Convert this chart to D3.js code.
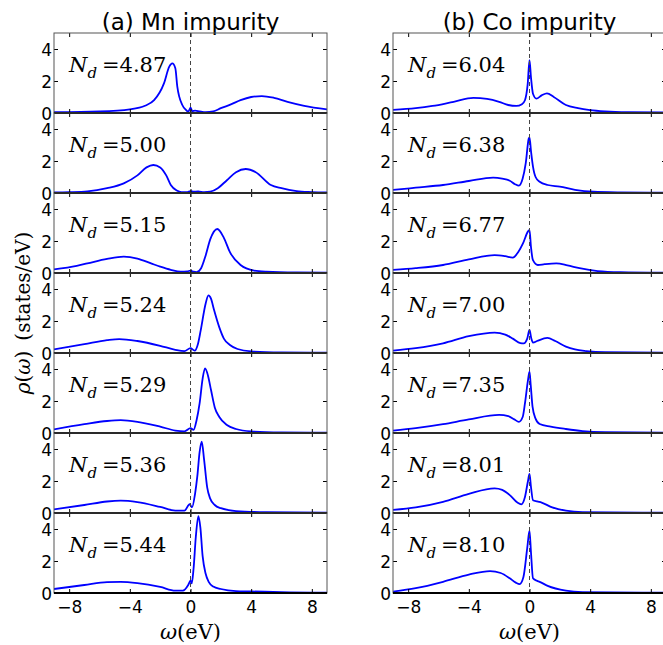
<!DOCTYPE html>
<html>
<head>
<meta charset="utf-8">
<script src="https://cdn.jsdelivr.net/npm/d3@7"></script>
<style>
  body { margin: 0; background: #fff; }
  svg { display: block; }
  .tick text { font-family: "DejaVu Sans", sans-serif; font-size: 17px; fill: #000; }
  .tick line { stroke: #000; stroke-width: 1; }
  .serif { font-family: "DejaVu Serif", "Liberation Serif", "Times New Roman", serif; }
</style>
</head>
<body>
<div id="chart"></div>
<script>
// ω values, in eV, paired with ρ(ω) in states/eV
const omegaTicks = [-8, -4, 0, 4, 8]
const rhoTicks = [0, 2, 4]
const columnTitles = ["(a) Mn impurity", "(b) Co impurity"]
const mnLabels = ["4.87", "5.00", "5.15", "5.24", "5.29", "5.36", "5.44"]
const coLabels = ["6.04", "6.38", "6.77", "7.00", "7.35", "8.01", "8.10"]

const mn487 = [[-9,0.05],[-6,0.1],[-4,0.23],[-3,0.45],[-2.4,0.8],[-1.75,1.85],[-1.4,2.9],[-1.2,3.1],[-1.0,2.8],[-0.87,1.65],[-0.54,0.5],[-0.3,0.19],[-0.15,0.08],[0,0.33],[0.12,0.12],[0.3,0.15],[0.6,0.1],[1,0.05],[1.5,0.1],[2,0.3],[2.7,0.55],[3.3,0.8],[4,1.0],[4.7,1.06],[5.5,0.95],[6.4,0.7],[7.5,0.45],[9,0.23]]
const mn500 = [[-9,0.03],[-8,0.05],[-6.8,0.1],[-5.5,0.3],[-4.4,0.6],[-3.5,1.1],[-2.9,1.6],[-2.45,1.75],[-2,1.6],[-1.6,1.1],[-1.3,0.5],[-0.9,0.15],[-0.6,0.05],[-0.2,0.05],[0,0.12],[0.2,0.08],[0.5,0.1],[0.9,0.05],[1.3,0.08],[1.8,0.3],[2.4,0.8],[3,1.3],[3.64,1.5],[4.3,1.3],[5.3,0.5],[6,0.3],[7,0.12],[8,0.06],[9,0.03]]
const mn515 = [[-9,0.23],[-7.5,0.45],[-6.8,0.6],[-5.5,0.88],[-4.4,1.02],[-3.5,0.9],[-2.6,0.6],[-2,0.4],[-1.3,0.2],[-0.65,0.08],[-0.2,0.1],[0,0.15],[0.2,0.08],[0.4,0.05],[0.7,0.3],[1.0,1.1],[1.3,2.1],[1.77,2.75],[2.2,2.2],[2.6,1.3],[3.3,0.5],[4.2,0.15],[5,0.08],[7,0.03],[9,0.02]]
const mn524 = [[-9,0.23],[-7,0.55],[-5.5,0.8],[-4.7,0.87],[-3.5,0.75],[-2,0.45],[-1,0.2],[-0.4,0.12],[0,0.3],[0.27,0.15],[0.5,0.6],[0.67,1.4],[1.0,3.1],[1.18,3.6],[1.35,3.4],[1.55,2.7],[1.9,1.6],[2.2,0.9],[2.6,0.5],[3.1,0.25],[4,0.1],[6,0.04],[9,0.02]]
const mn529 = [[-9,0.23],[-7,0.55],[-5.5,0.75],[-4.6,0.8],[-3.5,0.7],[-2,0.4],[-1,0.15],[-0.4,0.1],[0,0.3],[0.2,0.2],[0.4,0.8],[0.6,1.85],[0.8,3.4],[0.96,4.04],[1.15,3.6],[1.35,2.7],[1.6,1.6],[1.9,1.0],[2.4,0.5],[3,0.25],[4,0.1],[6,0.04],[9,0.02]]
const mn536 = [[-9,0.23],[-7,0.5],[-5.5,0.72],[-4.6,0.77],[-3.5,0.68],[-2,0.38],[-1,0.15],[-0.4,0.15],[-0.05,0.55],[0.1,0.35],[0.3,1.2],[0.45,2.3],[0.6,3.8],[0.74,4.46],[0.9,3.3],[1.1,1.6],[1.3,0.9],[1.6,0.5],[2,0.3],[3,0.12],[5,0.05],[9,0.02]]
const mn544 = [[-9,0.25],[-7,0.5],[-5.5,0.68],[-4.6,0.7],[-3.5,0.62],[-2,0.38],[-1,0.15],[-0.5,0.15],[-0.15,0.5],[0,0.77],[0.08,0.6],[0.2,1.5],[0.35,3.5],[0.52,4.8],[0.65,4.1],[0.8,2.3],[1,1.2],[1.2,0.7],[1.5,0.4],[2,0.25],[3,0.12],[4,0.1],[6,0.05],[9,0.02]]

const co604 = [[-9,0.19],[-7.5,0.3],[-6.4,0.44],[-5,0.7],[-3.7,0.94],[-2.8,0.88],[-2,0.7],[-1.4,0.5],[-0.87,0.44],[-0.5,0.55],[-0.3,0.8],[-0.12,1.8],[0,3.3],[0.1,2.2],[0.23,1.2],[0.45,0.9],[0.8,1.1],[1.15,1.23],[1.6,1.0],[2.4,0.5],[3.2,0.3],[4,0.18],[5,0.1],[6.5,0.05],[9,0.03]]
const co638 = [[-9,0.19],[-7.5,0.33],[-5.7,0.5],[-4,0.75],[-2.4,0.96],[-1.8,0.9],[-1.3,0.77],[-0.95,0.55],[-0.7,0.46],[-0.45,0.9],[-0.25,1.85],[-0.05,3.4],[0,3.48],[0.1,2.6],[0.23,1.65],[0.4,1.0],[0.67,0.7],[1.2,0.5],[2,0.4],[3,0.2],[4.2,0.08],[6,0.04],[9,0.02]]
const co677 = [[-9,0.19],[-7.5,0.3],[-5.7,0.5],[-4,0.85],[-2.3,1.12],[-1.6,1.05],[-1.1,0.96],[-0.75,1.3],[-0.43,1.85],[-0.1,2.6],[0,2.7],[0.1,1.6],[0.23,0.8],[0.55,0.5],[1,0.55],[1.77,0.6],[2.5,0.48],[3.3,0.3],[4.5,0.12],[6,0.05],[9,0.02]]
const co700 = [[-9,0.15],[-7.5,0.3],[-5.7,0.6],[-4,1.05],[-2.3,1.27],[-1.6,1.15],[-1.1,0.9],[-0.6,0.62],[-0.38,0.6],[-0.15,0.9],[0,1.44],[0.12,0.9],[0.23,0.65],[0.5,0.75],[1.18,0.94],[1.7,0.75],[2.4,0.4],[3,0.22],[3.75,0.12],[5,0.05],[9,0.02]]
const co735 = [[-9,0.15],[-7.5,0.3],[-5.7,0.55],[-4,0.85],[-2,1.13],[-1.4,1.05],[-1,0.85],[-0.7,0.7],[-0.45,1.0],[-0.3,1.85],[-0.1,3.3],[0,3.83],[0.08,3.0],[0.2,1.65],[0.4,0.9],[0.67,0.56],[1.4,0.4],[2.4,0.25],[3.5,0.12],[5,0.05],[9,0.02]]
const co801 = [[-9,0.19],[-7.5,0.35],[-5.7,0.7],[-4,1.2],[-2.3,1.54],[-1.8,1.45],[-1.3,1.12],[-0.8,0.65],[-0.54,0.54],[-0.3,1.0],[-0.1,2.0],[0,2.44],[0.1,1.6],[0.23,0.8],[0.5,0.72],[0.8,0.65],[1.5,0.35],[2.4,0.15],[3.5,0.06],[9,0.02]]
const co810 = [[-9,0.08],[-7.5,0.3],[-5.7,0.7],[-4,1.15],[-2.6,1.37],[-1.9,1.25],[-1.3,0.92],[-0.9,0.65],[-0.65,0.56],[-0.4,1.0],[-0.15,2.8],[0,3.9],[0.1,2.5],[0.23,0.92],[0.45,0.78],[0.67,0.7],[1.2,0.45],[2.4,0.15],[3.5,0.06],[9,0.02]]

const mnCurves = [mn487, mn500, mn515, mn524, mn529, mn536, mn544]
const coCurves = [co604, co638, co677, co700, co735, co801, co810]

const width = 663
const height = 645
const panelH = 80
const panelW = 273
const plotTop = 33
const columnLeft = [54, 393]

const svg = d3.select("#chart").append("svg")
    .attr("width", width)
    .attr("height", height)

const x = d3.scaleLinear().domain([-9, 9]).range([0, panelW])
const y = d3.scaleLinear().domain([0, 5]).range([panelH, 0])

const line = d3.line()
    .x(d => x(d[0]))
    .y(d => y(d[1]))
    .curve(d3.curveMonotoneX)

svg.append("defs").append("clipPath")
    .attr("id", "panel-clip")
  .append("rect")
    .attr("width", panelW)
    .attr("height", panelH)

const columns = [
  { labels: mnLabels, curves: mnCurves },
  { labels: coLabels, curves: coCurves }
]

columns.forEach((col, c) => {
  const left = columnLeft[c]

  // column title
  svg.append("text")
      .attr("x", left + panelW / 2)
      .attr("y", 30)
      .attr("text-anchor", "middle")
      .style("font-family", "DejaVu Sans, sans-serif")
      .style("font-size", "23px")
      .text(columnTitles[c])

  col.curves.forEach((data, i) => {
    const g = svg.append("g")
        .attr("transform", `translate(${left},${plotTop + i * panelH})`)
    const last = i === col.curves.length - 1

    // zero line
    g.append("line")
        .attr("x1", 0).attr("x2", panelW)
        .attr("y1", y(0)).attr("y2", y(0))
        .attr("stroke", "#000")
        .attr("stroke-width", 2)

    g.append("path")
        .datum(data)
        .attr("clip-path", "url(#panel-clip)")
        .attr("fill", "none")
        .attr("stroke", "#0000ff")
        .attr("stroke-width", 1.8)
        .attr("d", line)

    // Fermi level
    g.append("line")
        .attr("x1", x(0)).attr("x2", x(0))
        .attr("y1", 0).attr("y2", panelH)
        .attr("stroke", "#444")
        .attr("stroke-width", 1)
        .attr("stroke-dasharray", "4,3")

    g.append("g")
        .attr("transform", `translate(0,${panelH})`)
        .call(d3.axisBottom(x).tickValues(omegaTicks).tickSizeInner(-4).tickSizeOuter(0)
          .tickPadding(8)
          .tickFormat(last ? d3.format("d") : () => ""))
        .call(a => a.select(".domain").remove())
    g.append("g")
        .call(d3.axisTop(x).tickValues(omegaTicks).tickSizeInner(-4).tickSizeOuter(0).tickFormat(() => ""))
        .call(a => a.select(".domain").remove())
    g.append("g")
        .call(d3.axisLeft(y).tickValues(rhoTicks).tickSizeInner(-4).tickSizeOuter(0).tickPadding(2)
          .tickFormat(d3.format("d")))
        .call(a => a.select(".domain").remove())
        .call(a => a.selectAll(".tick text").attr("dy", "0.36em"))
    g.append("g")
        .attr("transform", `translate(${panelW},0)`)
        .call(d3.axisRight(y).tickValues(rhoTicks).tickSizeInner(-4).tickSizeOuter(0).tickFormat(() => ""))
        .call(a => a.select(".domain").remove())

    g.append("rect")
        .attr("width", panelW)
        .attr("height", panelH)
        .attr("fill", "none")
        .attr("stroke", "#555")
        .attr("stroke-width", 1)

    g.append("line")
        .attr("x1", 0).attr("x2", panelW)
        .attr("y1", panelH).attr("y2", panelH)
        .attr("stroke", "#000")
        .attr("stroke-width", 2)

    const label = g.append("text")
        .attr("class", "serif")
        .attr("x", 15)
        .attr("y", 39)
        .style("font-size", "21px")
    label.append("tspan").style("font-style", "italic").text("N")
    label.append("tspan").style("font-style", "italic").style("font-size", "15px")
        .attr("dy", 6).text("d")
    label.append("tspan").attr("dy", -6).attr("dx", 5).text("=" + col.labels[i])
  })

  // x-axis label
  const xl = svg.append("text")
      .attr("class", "serif")
      .attr("x", left + panelW / 2)
      .attr("y", 639)
      .attr("text-anchor", "middle")
      .style("font-size", "21px")
  xl.append("tspan").style("font-style", "italic").text("ω")
  xl.append("tspan").text("(eV)")
})

// y-axis label
const yl = svg.append("text")
    .attr("class", "serif")
    .attr("transform", `translate(30,${plotTop + 3.5 * panelH}) rotate(-90)`)
    .attr("text-anchor", "middle")
    .style("font-size", "20px")
yl.append("tspan").style("font-style", "italic").text("ρ")
yl.append("tspan").text("(")
yl.append("tspan").style("font-style", "italic").text("ω")
yl.append("tspan").text(")\u2002(states/eV)")
</script>
</body>
</html>
